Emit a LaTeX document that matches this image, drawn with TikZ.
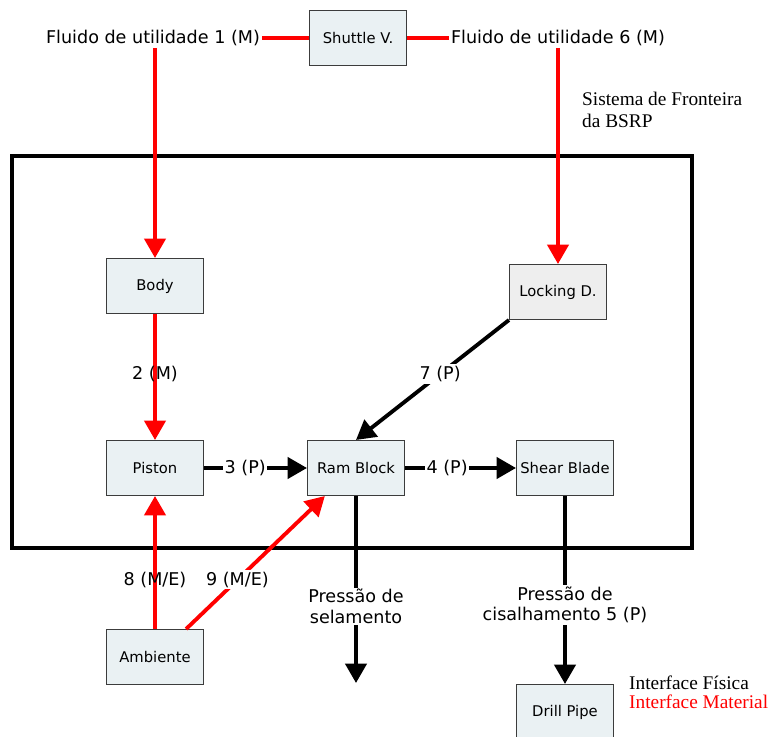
\documentclass[tikz,border=0pt]{standalone}
\usepackage{fontspec}
\setmainfont{DejaVu Sans}
\newfontfamily\timesface{Liberation Serif}
\usetikzlibrary{arrows.meta}
\definecolor{boxfill}{RGB}{234,241,243}
\definecolor{lockfill}{RGB}{238,238,238}
\definecolor{boxline}{RGB}{60,60,60}

\begin{document}
\begin{tikzpicture}[x=0.02cm, y=-0.02cm,
	comp/.style = {draw = boxline, fill = boxfill, line width = .6pt, minimum width = 1.94cm, minimum height = 1.1cm, font = \fontsize{8.4}{9.5}\selectfont, inner sep = 1pt},
	lbl/.style = {text = black, font = \fontsize{10}{11.5}\selectfont, align = center, inner sep = 1pt},
	gap/.style = {fill = white},
	mat/.style = {red, line width = 2.2pt},
	phys/.style = {black, line width = 2.2pt},
	tip/.style = {-{Triangle[length = 11pt, width = 12pt]}},
	note/.style = {font = \timesface\fontsize{11}{12.5}\selectfont, align = left, anchor = west},
	legend/.style = {font = \timesface\fontsize{11}{12}\selectfont, anchor = west}]
	\useasboundingbox (0,0) rectangle (769,737);
	% system boundary
	\draw [line width = 1.8pt] (12,156) rectangle (692,548);
	\node [note] (bsrp) at (576,110) {Sistema de Fronteira\\da BSRP};
	% components
	\node [comp] (shuttle) at (358,38) {Shuttle V.};
	\node [comp] (body) at (155,286) {Body};
	\node [comp, fill = lockfill] (lock) at (558,292) {Locking D.};
	\node [comp] (piston) at (155,468) {Piston};
	\node [comp] (ram) at (356,468) {Ram Block};
	\node [comp] (shear) at (565,468) {Shear Blade};
	\node [comp] (amb) at (155,657) {Ambiente};
	\node [comp] (pipe) at (565,712) {Drill Pipe};
	\node [lbl] (fluid1) at (153,38) {Fluido de utilidade 1 (M)};
	\node [lbl] (fluid6) at (558,38) {Fluido de utilidade 6 (M)};
	\coordinate (sealend) at (356,683);
	% material interfaces
	\draw [mat] (fluid1) -- (shuttle);
	\draw [mat] (shuttle) -- (fluid6);
	\draw [mat, tip] (body |- fluid1.south) -- (body.north);
	\draw [mat, tip] (lock |- fluid6.south) -- (lock.north);
	\draw [mat, tip] (body) -- (piston) node [lbl, pos = .48] {2 (M)};
	\draw [mat, tip] (amb) -- (piston) node [lbl, pos = .37] {8 (M/E)};
	\draw [mat, tip] (amb.42) -- (ram.222) node [lbl, gap, pos = .37] {9 (M/E)};
	% physical interfaces
	\draw [phys, tip] (lock.south west) -- (ram.north) node [lbl, gap, pos = .45] {7 (P)};
	\draw [phys, tip] (piston) -- (ram) node [lbl, gap, pos = .4] {3 (P)};
	\draw [phys, tip] (ram) -- (shear) node [lbl, gap, pos = .38] {4 (P)};
	\draw [phys, tip] (ram) -- (sealend) node [lbl, gap, pos = .59] {Pressão de\\selamento};
	\draw [phys, tip] (shear) -- (shear |- pipe.north) node [lbl, gap, pos = .58] {Pressão de\\cisalhamento 5 (P)};
	% legend
	\node [legend] (physleg) at (623,683) {Interface Física};
	\node [legend, red] (matleg) at (623,702) {Interface Material};
\end{tikzpicture}
\end{document}
